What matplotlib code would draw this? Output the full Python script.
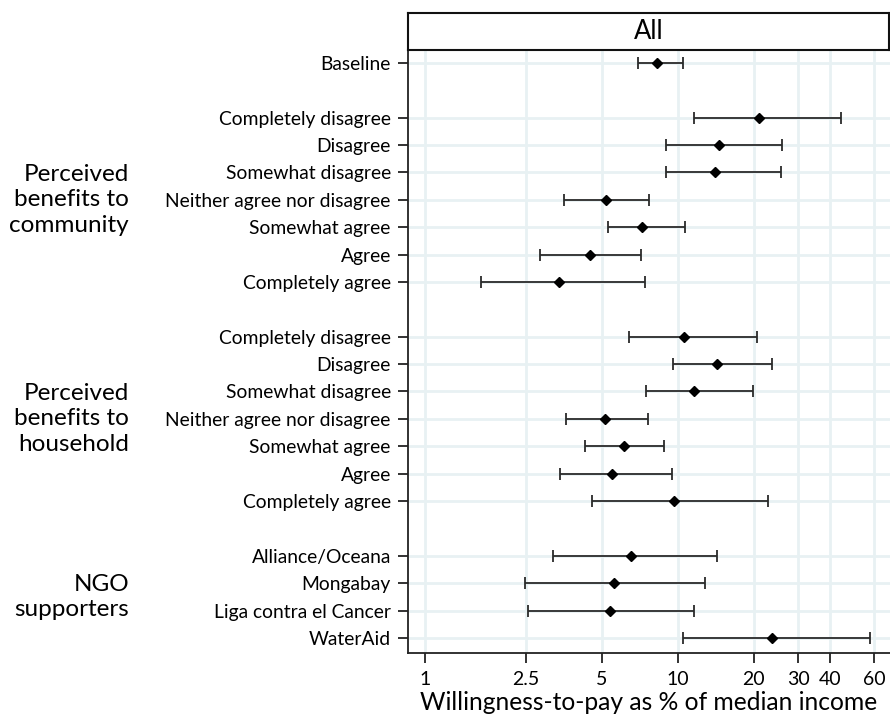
import matplotlib
matplotlib.use("Agg")
import matplotlib.pyplot as plt
import numpy as np

plt.rcParams['font.family'] = ['Lato', 'DejaVu Sans']

# Row labels, grouped
baseline_label = ["Baseline"]
agree_scale = ["Completely disagree", "Disagree", "Somewhat disagree",
               "Neither agree nor disagree", "Somewhat agree", "Agree",
               "Completely agree"]
ngo_labels = ["Alliance/Oceana", "Mongabay", "Liga contra el Cancer", "WaterAid"]

group_titles = ["Perceived\nbenefits to\ncommunity",
                "Perceived\nbenefits to\nhousehold",
                "NGO\nsupporters"]

# Estimates and confidence bounds (WTP as % of median income)
baseline_est = [8.26]
baseline_lo = [6.96]
baseline_hi = [10.52]

community_est = [20.9, 14.6, 14.1, 5.20, 7.22, 4.51, 3.38]
community_lo = [11.57, 9.02, 9.02, 3.56, 5.28, 2.85, 1.66]
community_hi = [44.2, 25.9, 25.6, 7.70, 10.66, 7.16, 7.44]

household_est = [10.62, 14.27, 11.63, 5.17, 6.11, 5.50, 9.70]
household_lo = [6.40, 9.55, 7.47, 3.62, 4.31, 3.42, 4.57]
household_hi = [20.65, 23.6, 19.9, 7.65, 8.85, 9.47, 22.85]

ngo_est = [6.55, 5.61, 5.40, 23.6]
ngo_lo = [3.21, 2.48, 2.55, 10.5]
ngo_hi = [14.27, 12.86, 11.63, 57.7]

x_ticks = [1, 2.5, 5, 10, 20, 30, 40, 60]
x_ticklabels = ["1", "2.5", "5", "10", "20", "30", "40", "60"]

# Assemble rows with a blank slot between groups
labels = []
est, lo, hi, pos = [], [], [], []
group_rows = []
cur = 0
for lab_list, e, l, h in [(baseline_label, baseline_est, baseline_lo, baseline_hi),
                          (agree_scale, community_est, community_lo, community_hi),
                          (agree_scale, household_est, household_lo, household_hi),
                          (ngo_labels, ngo_est, ngo_lo, ngo_hi)]:
    rows = list(range(cur, cur + len(lab_list)))
    group_rows.append(rows)
    pos += rows
    labels += lab_list
    est += e
    lo += l
    hi += h
    cur += len(lab_list) + 1

est = np.array(est)
lo = np.array(lo)
hi = np.array(hi)
pos = np.array(pos)

W, H = 890, 715
fig = plt.figure(figsize=(W / 100, H / 100), dpi=100)
ax = fig.add_axes([407.5 / W, 1 - 652.7 / H, 1 - 407.5 / W, (652.7 - 49.5) / H])

grid_col = "#e8f1f3"
ax.set_xscale("log")
ax.set_xlim(0.852, 69.2)
ax.set_ylim(pos.max() + 0.54, -0.49)
ax.set_xticks(x_ticks)
ax.set_xticklabels(x_ticklabels)
ax.xaxis.set_minor_locator(matplotlib.ticker.NullLocator())
ax.set_yticks(pos)
ax.set_yticklabels(labels)
ax.grid(True, color=grid_col, linewidth=2.0, zorder=0)
ax.set_axisbelow(True)

ax.errorbar(est, pos, xerr=[est - lo, hi - est], fmt="none",
            ecolor="#2a2a2a", elinewidth=1.3, capsize=4.5, capthick=1.3, zorder=3)
ax.plot(est, pos, linestyle="none", marker="D", markersize=4.6,
        color="black", zorder=4)

for side in ("top", "right"):
    ax.spines[side].set_visible(False)
for side in ("left", "bottom"):
    ax.spines[side].set_color("#222222")
    ax.spines[side].set_linewidth(1.3)

ax.tick_params(axis="y", length=7, width=1.3, color="#222222",
               labelsize=13.9, pad=5)
ax.tick_params(axis="x", length=7, width=1.3, color="#222222",
               labelsize=14, pad=6)
ax.set_xlabel("Willingness-to-pay as % of median income", fontsize=17.7,
              labelpad=2.5)

# Group titles to the left of the row labels
trans = matplotlib.transforms.blended_transform_factory(fig.transFigure, ax.transData)
for title, rows in zip(group_titles, group_rows[1:]):
    yc = (rows[0] + rows[-1]) / 2
    fig.text(129 / W, yc, title, transform=trans, ha="right", va="center",
             multialignment="right", fontsize=17.5, linespacing=1.25)

# Panel header strip
hax = fig.add_axes([408 / W, 1 - 49.5 / H, (889 - 408) / W, (49.5 - 12.5) / H])
hax.set_xticks([])
hax.set_yticks([])
for s in hax.spines.values():
    s.set_linewidth(1.5)
    s.set_color("#111111")
hax.text(0.5, 0.48, "All", ha="center", va="center", fontsize=18.5,
         transform=hax.transAxes)

fig.savefig("out.png", dpi=100)
